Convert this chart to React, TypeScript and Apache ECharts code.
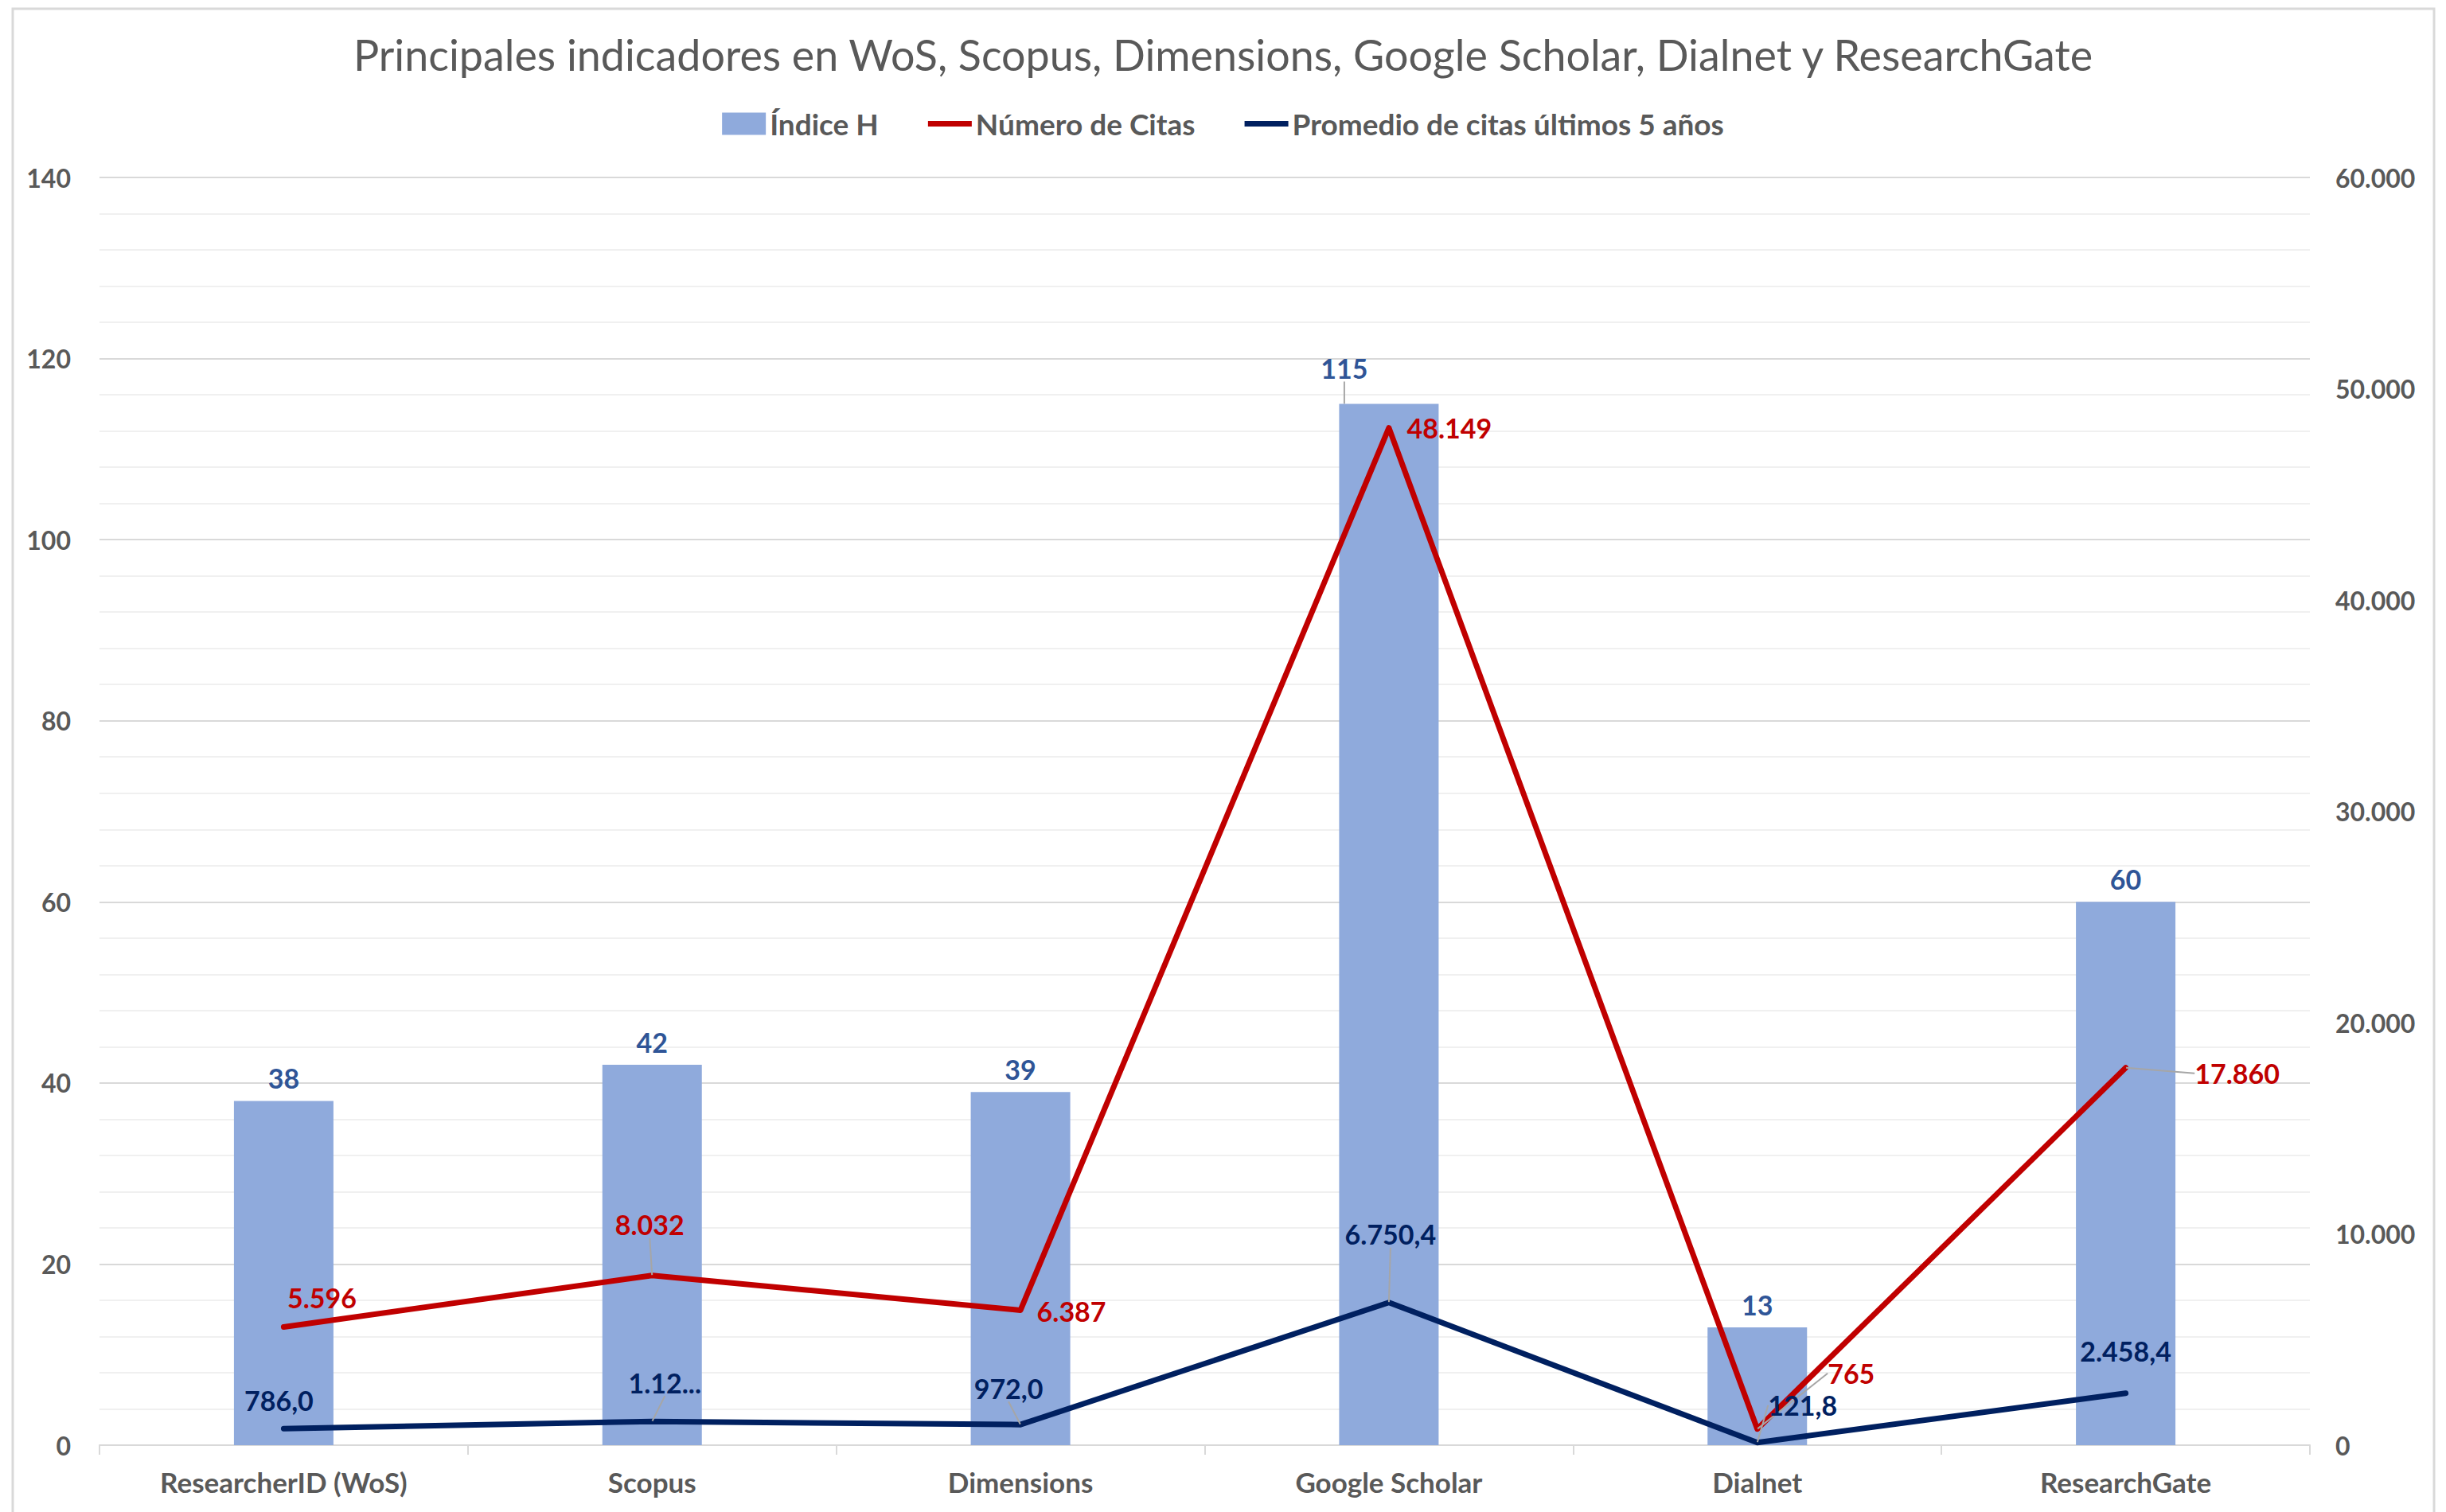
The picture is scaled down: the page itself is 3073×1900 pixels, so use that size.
import React, { useEffect, useRef } from "react";
import * as echarts from "echarts";

const categories = ["ResearcherID (WoS)", "Scopus", "Dimensions", "Google Scholar", "Dialnet", "ResearchGate"];
const indiceH = [38, 42, 39, 115, 13, 60];
const citas = [5596, 8032, 6387, 48149, 765, 17860];
const promedio = [786.0, 1120.0, 972.0, 6750.4, 121.8, 2458.4];
const leftTicks = [0, 140, 20];
const rightTicks = [0, 60000, 10000];

// label offsets (px) relative to the point, and whether a leader line is drawn
const barLabelOffsets = [[0, 0], [0, 0], [0, 0], [-56, -16], [0, 0], [0, 0]];
const barLeader = [false, false, false, true, false, false];
const citasLabelOffsets = [[48, -37], [-3, -64], [64, 1], [76, 0], [118, -70], [140, 7]];
const citasLeader = [false, true, false, false, true, true];
const promLabelOffsets = [[-6, -36], [16, -49], [-15, -46], [2, -86], [57, -47], [0, -53]];
const promLeader = [false, true, true, true, true, false];

const FONT = "Lato";

function fmtEs(v: number, dec: number): string {
  const fixed = v.toFixed(dec);
  const [intPart, decPart] = fixed.split(".");
  const withDots = intPart.replace(/\B(?=(\d{3})+(?!\d))/g, ".");
  return decPart ? withDots + "," + decPart : withDots;
}

const leaderStyle = { color: "#a6a6a6", width: 2 };

export default function App() {
  const ref = useRef<HTMLDivElement>(null);
  useEffect(() => {
    if (!ref.current) return;
    const chart = echarts.init(ref.current, undefined, { renderer: "svg" });
    const labelBase = { fontFamily: FONT, fontWeight: "bold" as const, fontSize: 34 };
    const axisLabelBase = { fontFamily: FONT, fontWeight: "bold" as const, fontSize: 32 };
    const lineIcon = "path://M0,0 L57,0 L57,7 L0,7 Z";
    chart.setOption({
      animation: false,
      backgroundColor: "#ffffff",
      title: {
        text: "Principales indicadores en WoS, Scopus, Dimensions, Google Scholar, Dialnet y ResearchGate",
        left: "center",
        top: 36,
        textStyle: { fontFamily: FONT, fontWeight: "normal", fontSize: 53.8, color: "#595959" },
      },
      legend: {
        top: 132,
        left: "center",
        itemWidth: 55,
        itemHeight: 28,
        itemGap: 62,
        textStyle: { fontFamily: FONT, fontSize: 37, color: "#595959", fontWeight: "bold" },
        data: [
          { name: "Índice H", icon: "rect" },
          { name: "Número de Citas", icon: lineIcon, itemStyle: { color: "#C00000" } },
          { name: "Promedio de citas últimos 5 años", icon: lineIcon, itemStyle: { color: "#002060" } },
        ],
      },
      graphic: [
        {
          type: "rect",
          shape: { x: 16, y: 11, width: 3042, height: 2000 },
          style: { fill: "none", stroke: "#d9d9d9", lineWidth: 3 },
          silent: true,
        },
      ],
      grid: { left: 125, right: 171, top: 223, bottom: 84, containLabel: false },
      xAxis: {
        type: "category",
        data: categories,
        axisLine: { lineStyle: { color: "#d9d9d9", width: 2 } },
        axisTick: { show: true, length: 12, lineStyle: { color: "#d9d9d9", width: 2 } },
        axisLabel: { ...axisLabelBase, fontSize: 35, color: "#595959", margin: 28 },
      },
      yAxis: [
        {
          type: "value",
          min: leftTicks[0],
          max: leftTicks[1],
          interval: leftTicks[2],
          axisLine: { show: false },
          axisTick: { show: false },
          axisLabel: { ...axisLabelBase, color: "#595959", margin: 36 },
          splitLine: { lineStyle: { color: "#d9d9d9", width: 2 } },
          minorTick: { show: false, splitNumber: 5 },
          minorSplitLine: { show: true, lineStyle: { color: "#f0f0f0", width: 2 } },
        },
        {
          type: "value",
          min: rightTicks[0],
          max: rightTicks[1],
          interval: rightTicks[2],
          axisLine: { show: false },
          axisTick: { show: false },
          splitLine: { show: false },
          axisLabel: {
            ...axisLabelBase,
            color: "#595959",
            margin: 32,
            formatter: (v: number) => fmtEs(v, 0),
          },
        },
      ],
      series: [
        {
          name: "Índice H",
          type: "bar",
          yAxisIndex: 0,
          barWidth: 125,
          itemStyle: { color: "#8FAADC" },
          data: indiceH.map((v, i) => ({
            value: v,
            labelLine: { show: barLeader[i], lineStyle: leaderStyle },
          })),
          label: {
            show: true,
            position: "top",
            distance: 12,
            ...labelBase,
            color: "#2F5597",
          },
          labelLayout: (p: any) => ({ dx: barLabelOffsets[p.dataIndex][0], dy: barLabelOffsets[p.dataIndex][1] }),
          z: 1,
        },
        {
          name: "Número de Citas",
          type: "line",
          yAxisIndex: 1,
          symbol: "circle",
          symbolSize: 1,
          lineStyle: { color: "#C00000", width: 7, cap: "round", join: "round" },
          itemStyle: { color: "#C00000" },
          data: citas.map((v, i) => ({
            value: v,
            labelLine: { show: citasLeader[i], lineStyle: leaderStyle },
          })),
          label: {
            show: true,
            position: "inside",
            ...labelBase,
            color: "#C00000",
            formatter: (p: any) => fmtEs(p.value, 0),
          },
          labelLayout: (p: any) => ({ dx: citasLabelOffsets[p.dataIndex][0], dy: citasLabelOffsets[p.dataIndex][1] }),
          z: 3,
        },
        {
          name: "Promedio de citas últimos 5 años",
          type: "line",
          yAxisIndex: 1,
          symbol: "circle",
          symbolSize: 1,
          lineStyle: { color: "#002060", width: 7, cap: "round", join: "round" },
          itemStyle: { color: "#002060" },
          data: promedio.map((v, i) => ({
            value: v,
            labelLine: { show: promLeader[i], lineStyle: leaderStyle },
          })),
          label: {
            show: true,
            position: "inside",
            ...labelBase,
            color: "#002060",
            formatter: (p: any) => (p.dataIndex === 1 ? "1.12..." : fmtEs(p.value, 1)),
          },
          labelLayout: (p: any) => ({ dx: promLabelOffsets[p.dataIndex][0], dy: promLabelOffsets[p.dataIndex][1] }),
          z: 3,
        },
      ],
    });
    return () => chart.dispose();
  }, []);
  return (
    <div
      ref={ref}
      style={{ position: "fixed", left: 0, top: 0, width: 3073, height: 1900 }}
    />
  );
}
